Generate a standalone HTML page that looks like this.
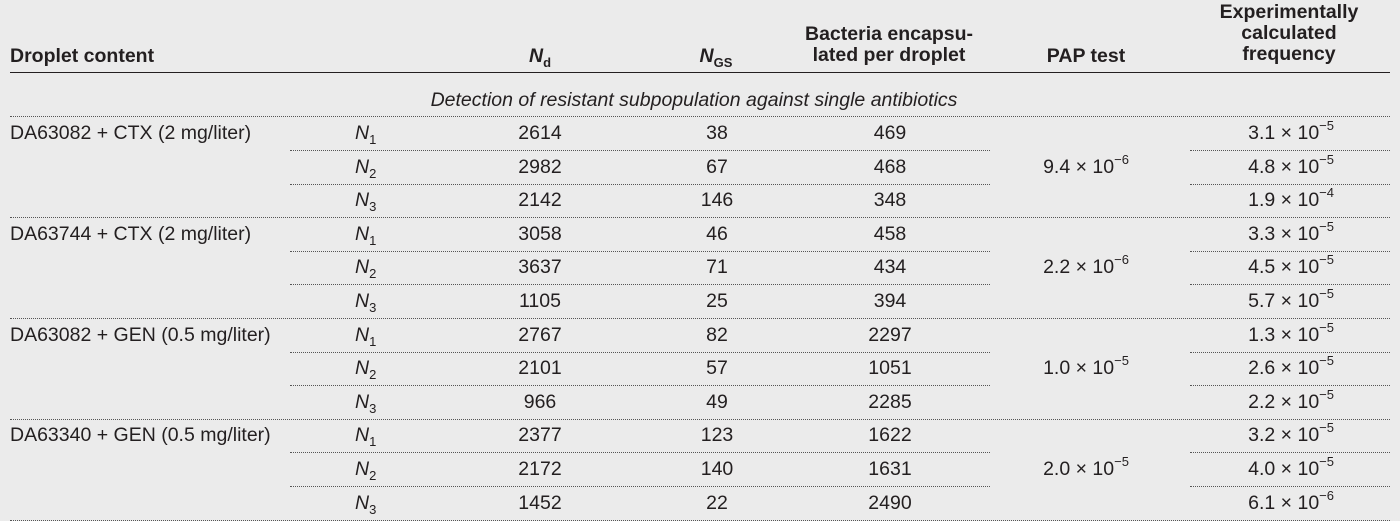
<!DOCTYPE html>
<html><head><meta charset="utf-8">
<style>
body{margin:0;width:1400px;height:521px;background:#ebebeb;overflow:hidden;font-family:"Liberation Sans Narrow","Liberation Sans",sans-serif;color:#231f20;position:relative}
.t{position:absolute;font-size:19.5px;white-space:nowrap;line-height:20px}
.h{font-weight:bold;font-size:19.5px;text-align:center;line-height:21px}
.c{transform:translateX(-50%)}
.r{transform:translateX(-100%)}
sup{font-size:13px;vertical-align:0;position:relative;top:-9px}
sub{font-size:13px;vertical-align:0;position:relative;top:5px}
.solid{position:absolute;left:10px;width:1380px;height:0;border-top:1.5px solid #231f20}
.dot{position:absolute;height:0;border-top:1.3px dotted #555}
</style></head><body>
<div class="t h" style="left:10px;top:46px;text-align:left">Droplet content</div>
<div class="t h c" style="left:540px;top:46px"><i>N</i><sub style="font-size:13px">d</sub></div>
<div class="t h c" style="left:716px;top:46px"><i>N</i><sub style="font-size:13px">GS</sub></div>
<div class="t h c" style="left:889px;top:24px">Bacteria encapsu-<br>lated per droplet</div>
<div class="t h c" style="left:1086px;top:46px">PAP test</div>
<div class="t h c" style="left:1289px;top:2px">Experimentally<br>calculated<br>frequency</div>
<div class="solid" style="top:72px"></div>
<div class="t c" style="left:694px;top:90px;font-style:italic">Detection of resistant subpopulation against single antibiotics</div>
<div id="rows"></div>
<script>
const groups=["DA63082 + CTX (2 mg/liter)","DA63744 + CTX (2 mg/liter)","DA63082 + GEN (0.5 mg/liter)","DA63340 + GEN (0.5 mg/liter)"];
const nd=[2614,2982,2142,3058,3637,1105,2767,2101,966,2377,2172,1452];
const ngs=[38,67,146,46,71,25,82,57,49,123,140,22];
const bact=[469,468,348,458,434,394,2297,1051,2285,1622,1631,2490];
const pap=[["9.4","6"],["2.2","6"],["1.0","5"],["2.0","5"]];
const freq=[["3.1","5"],["4.8","5"],["1.9","4"],["3.3","5"],["4.5","5"],["5.7","5"],["1.3","5"],["2.6","5"],["2.2","5"],["3.2","5"],["4.0","5"],["6.1","6"]];
const root=document.getElementById('rows');
function add(html,left,top,cls,name){const d=document.createElement('div');d.className='t '+cls;d.style.left=left+'px';d.style.top=top+'px';d.innerHTML=html;


root.appendChild(d);}
function line(cls,left,width,top,name){const d=document.createElement('div');d.className=cls;d.style.left=left+'px';d.style.width=width+'px';d.style.top=top+'px';


root.appendChild(d);}
const y0=123,rh=33.6;
line('dot',10,1380,116,'section-dotted-rule');
for(let i=0;i<nd.length;i++){
  const y=y0+i*rh, g=Math.floor(i/3), k=i%3;
  if(k===0) add(groups[g],10,y,'','group-label');
  add('<i>N</i><sub>'+(k+1)+'</sub>',355,y,'','replicate-label');
  add(nd[i],540,y,'c','nd-value');
  add(ngs[i],717,y,'c','ngs-value');
  add(bact[i],890,y,'c','bacteria-value');
  add(freq[i][0]+' × 10<sup>−'+freq[i][1]+'</sup>',1334,y,'r','frequency-value');
  if(k===1) add(pap[g][0]+' × 10<sup>−'+pap[g][1]+'</sup>',1086,y,'c','pap-value');
  const ly=y+27;
  if(k<2){line('dot',290,700,ly,'row-dotted-rule');line('dot',1190,200,ly,'row-dotted-rule');}
  else line('dot',10,1380,ly,'group-dotted-rule');
}
</script>
</body></html>
